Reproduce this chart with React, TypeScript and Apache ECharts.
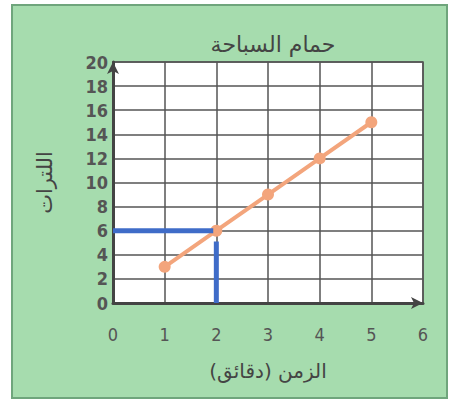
import React, { useEffect, useRef } from "react";
import * as echarts from "echarts";

const title = "حمام السباحة";
const xName = "الزمن (دقائق)";
const yName = "اللترات";
const minutes = [1, 2, 3, 4, 5];
const liters = [3, 6, 9, 12, 15];
const guideH: [number, number][] = [[0, 6], [1.94, 6]];
const guideV: [number, number][] = [[2, 5.1], [2, 0]];

export default function App() {
  const ref = useRef<HTMLDivElement>(null);
  useEffect(() => {
    document.body.style.margin = "0";
    const chart = echarts.init(ref.current!, null, { renderer: "svg" });
    const font = "'DejaVu Sans', sans-serif";
    const condensed = "'DejaVu Sans Condensed', 'DejaVu Sans', sans-serif";
    chart.setOption({
      animation: false,
      backgroundColor: "#ffffff",
      graphic: [
        {
          type: "rect",
          z: -10,
          shape: { x: 12, y: 5, width: 435, height: 393 },
          style: { fill: "#a6dcae", stroke: "#6fa57c", lineWidth: 2 },
        },
      ],
      title: {
        text: title,
        left: 268,
        textAlign: "center",
        top: 28,
        textStyle: { fontFamily: font, fontSize: 22, fontWeight: "normal", color: "#444" },
      },
      grid: {
        left: 113,
        right: 28,
        top: 62,
        bottom: 101,
        show: true,
        backgroundColor: "#ffffff",
        borderColor: "#555",
        borderWidth: 1.5,
      },
      xAxis: {
        type: "value",
        min: 0,
        max: 6,
        interval: 1,
        name: xName,
        nameLocation: "middle",
        nameGap: 58,
        nameTextStyle: { fontFamily: font, fontSize: 20, color: "#444" },
        axisLine: {
          show: true,
          symbol: ["none", "arrow"],
          symbolSize: [9, 12],
          lineStyle: { color: "#444", width: 3 },
        },
        axisTick: { show: false },
        axisLabel: { fontFamily: condensed, fontSize: 18, color: "#555", margin: 22 },
        splitLine: { show: true, lineStyle: { color: "#555", width: 1.5 } },
      },
      yAxis: {
        type: "value",
        min: 0,
        max: 20,
        interval: 2,
        name: yName,
        nameLocation: "middle",
        nameGap: 58,
        nameTextStyle: { fontFamily: font, fontSize: 21, color: "#444" },
        axisLine: {
          show: true,
          symbol: ["none", "arrow"],
          symbolSize: [9, 12],
          lineStyle: { color: "#444", width: 3 },
        },
        axisTick: { show: false },
        axisLabel: { fontFamily: condensed, fontSize: 18, color: "#555", margin: 5, fontWeight: "bold" },
        splitLine: { show: true, lineStyle: { color: "#555", width: 1.5 } },
      },
      series: [
        {
          type: "line",
          data: minutes.map((m, i) => [m, liters[i]]),
          symbol: "circle",
          symbolSize: 12,
          itemStyle: { color: "#f3a57c" },
          lineStyle: { color: "#f3a57c", width: 4 },
          z: 3,
        },
        {
          type: "line",
          data: guideH,
          symbol: "none",
          lineStyle: { color: "#3f6cc8", width: 5 },
          z: 4,
        },
        {
          type: "line",
          data: guideV,
          symbol: "none",
          lineStyle: { color: "#3f6cc8", width: 5 },
          z: 4,
        },
      ],
    });
    return () => chart.dispose();
  }, []);
  return <div ref={ref} style={{ width: 451, height: 404, position: "fixed", left: 0, top: 0 }} />;
}
